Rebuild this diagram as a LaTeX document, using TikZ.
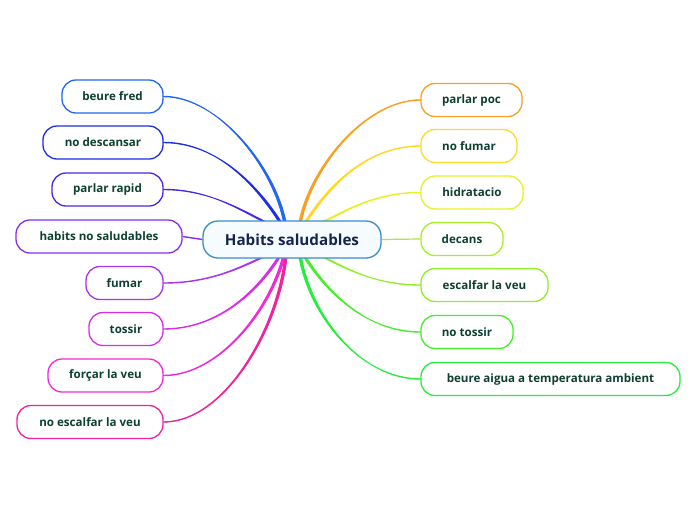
\documentclass[tikz,border=0pt]{standalone}
\usepackage{fontspec}
\setmainfont{Open Sans}
\usetikzlibrary{calc,backgrounds}
\definecolor{txt}{HTML}{0E4032}
\definecolor{ctxt}{HTML}{15244C}
\definecolor{cbord}{HTML}{3A8CCC}
\definecolor{cfill}{HTML}{F6FBFE}
\definecolor{l1}{HTML}{2266F2}
\definecolor{l2}{HTML}{1C2EE6}
\definecolor{l3}{HTML}{4A25E8}
\definecolor{l4}{HTML}{8A2EE6}
\definecolor{l5}{HTML}{A833EA}
\definecolor{l6}{HTML}{D62EE8}
\definecolor{l7}{HTML}{F02AD8}
\definecolor{l8}{HTML}{F0239E}
\definecolor{r1}{HTML}{F7A024}
\definecolor{r2}{HTML}{FFD829}
\definecolor{r3}{HTML}{E6F227}
\definecolor{r4}{HTML}{A6EF2A}
\definecolor{r5}{HTML}{8EEF2A}
\definecolor{r6}{HTML}{45EE2A}
\definecolor{r7}{HTML}{25EE3D}
\newcommand{\tconn}[5]{%
  \filldraw[#1, line width=1pt, line join=round]
    ($(#2)+(0,-0.2)$) .. controls +(#3) and +(#4) .. ($(#5)+(-1.2,0)$)
    -- ($(#5)+(1.2,0)$) .. controls +(#4) and +(#3) .. ($(#2)+(0,0.2)$) -- cycle;}
\begin{document}
\begin{tikzpicture}[x=1pt,y=-1pt,
  leaf/.style={draw=#1, line width=1.3pt, fill=white, rounded corners=14pt,
    minimum height=33pt, inner sep=0pt, text=txt,
    font=\fontsize{11.6}{13}\selectfont\bfseries},
  centre/.style={draw=cbord, line width=1.3pt, fill=cfill, rounded corners=15pt,
    minimum height=37pt, minimum width=178pt, inner sep=0pt, text=ctxt,
    font=\fontsize{15.2}{17}\selectfont\bfseries}]
\useasboundingbox (0,0) rectangle (696,520);

\node[centre] (c) at (292,239.5) {Habits saludables};

\node[leaf=l1, minimum width=101pt] (a1) at (112.5,96.5) {beure fred};
\node[leaf=l2, minimum width=120pt] (a2) at (103,142.5) {no descansar};
\node[leaf=l3, minimum width=111pt] (a3) at (107.5,189.5) {parlar rapid};
\node[leaf=l4, minimum width=166pt] (a4) at (99,236.5) {habits no saludables};
\node[leaf=l5, minimum width=77pt] (a5) at (124.5,283) {fumar};
\node[leaf=l6, minimum width=74pt] (a6) at (126,329) {tossir};
\node[leaf=l7, minimum width=115pt] (a7) at (105.5,375.5) {forçar la veu};
\node[leaf=l8, minimum width=146pt] (a8) at (90,422) {no escalfar la veu};

\node[leaf=r1, minimum width=101pt] (b1) at (471.5,100) {parlar poc};
\node[leaf=r2, minimum width=96pt] (b2) at (469,146) {no fumar};
\node[leaf=r3, minimum width=102pt] (b3) at (472,192.5) {hidratacio};
\node[leaf=r4, minimum width=82pt] (b4) at (462,239) {decans};
\node[leaf=r5, minimum width=127pt] (b5) at (484.5,285) {escalfar la veu};
\node[leaf=r6, minimum width=92pt] (b6) at (467,332) {no tossir};
\node[leaf=r7, minimum width=259pt] (b7) at (550.5,379) {beure aigua a temperatura ambient};

\coordinate (p1) at ($(c.north)+(-7,3)$);
\coordinate (p2) at ($(c.north)+(-11,3)$);
\coordinate (p3) at ($(c.north)+(-22,4)$);
\coordinate (p5) at ($(c.south)+(-24,-4)$);
\coordinate (p6) at ($(c.south)+(-12,-3)$);
\coordinate (p7) at ($(c.south)+(-8,-3)$);
\coordinate (p8) at ($(c.south)+(-6,-3)$);
\coordinate (q1) at ($(c.north)+(8,3)$);
\coordinate (q2) at ($(c.north)+(13,3)$);
\coordinate (q3) at ($(c.north)+(26,4)$);
\coordinate (q5) at ($(c.south)+(26,-4)$);
\coordinate (q6) at ($(c.south)+(12,-3)$);
\coordinate (q7) at ($(c.south)+(8,-3)$);

\begin{pgfonlayer}{background}
\fill[white] (0,0) rectangle (696,520);
\tconn{l1}{a1.east}{55,0}{-10,-55}{p1}
\tconn{l2}{a2.east}{55,0}{-22,-35}{p2}
\tconn{l3}{a3.east}{48,0}{-26,-12}{p3}
\draw[l4, line width=1.4pt] (a4.east) -- (c.west);
\tconn{l5}{a5.east}{48,0}{-26,12}{p5}
\tconn{l6}{a6.east}{55,0}{-22,35}{p6}
\tconn{l7}{a7.east}{55,0}{-14,55}{p7}
\tconn{l8}{a8.east}{60,0}{-8,75}{p8}
\tconn{r1}{b1.west}{-55,0}{10,-55}{q1}
\tconn{r2}{b2.west}{-55,0}{22,-35}{q2}
\tconn{r3}{b3.west}{-48,0}{26,-12}{q3}
\draw[r4, line width=1.2pt] (b4.west) -- (c.east);
\tconn{r5}{b5.west}{-48,0}{26,12}{q5}
\tconn{r6}{b6.west}{-55,0}{22,35}{q6}
\tconn{r7}{b7.west}{-60,0}{10,60}{q7}
\end{pgfonlayer}
\end{tikzpicture}
\end{document}
